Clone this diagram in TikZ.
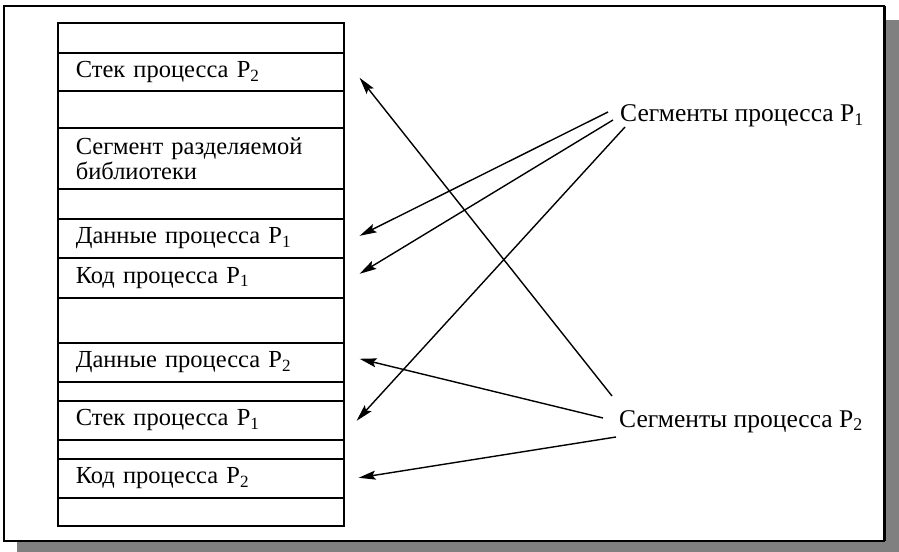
\documentclass[tikz,border=0pt]{standalone}
\usepackage{fontspec}
\setmainfont{Liberation Serif}
\usetikzlibrary{arrows.meta}

\newcommand{\cellfont}{\fontsize{24.5bp}{25bp}\selectfont}
\newcommand{\segfont}{\fontsize{25.5bp}{26bp}\selectfont}

\begin{document}
\begin{tikzpicture}[x=1bp,y=-1bp,
  cell/.style={draw, line width=1.6bp, anchor=north west,
    text width=250bp, inner xsep=18bp, inner ysep=0pt,
    align=left, font=\cellfont},
  seglabel/.style={inner sep=0pt, anchor=base west, font=\segfont},
  conn/.style={line width=1.4bp,
    -{Stealth[length=17bp,width=9bp,inset=3bp]}},
  shadow/.style={fill=black!50, draw=none}]

\useasboundingbox (0,0) rectangle (899,552);

% drop shadow and outer frame
\fill[shadow] (884,20) rectangle (899,552);
\fill[shadow] (17,541) rectangle (899,552);
\draw[line width=1.7bp, fill=white] (4,6) rectangle (884,541);
\draw[line width=3bp] (884,6) -- (884,541);

% memory map, top to bottom
\node[cell, minimum height=30bp] (e1) at (57,22) {};
\node[cell, minimum height=38bp] (stack2) at (57,52) {Стек процесса P\textsubscript{2}};
\node[cell, minimum height=37bp] (e2) at (57,90) {};
\node[cell, minimum height=61bp] (lib) at (57,127) {Сегмент разделяемой\\библиотеки};
\node[cell, minimum height=30bp] (e3) at (57,188) {};
\node[cell, minimum height=39bp] (data1) at (57,218) {Данные процесса P\textsubscript{1}};
\node[cell, minimum height=40bp] (code1) at (57,257) {Код процесса P\textsubscript{1}};
\node[cell, minimum height=45bp] (e4) at (57,297) {};
\node[cell, minimum height=39bp] (data2) at (57,342) {Данные процесса P\textsubscript{2}};
\node[cell, minimum height=19bp] (e5) at (57,381) {};
\node[cell, minimum height=39bp] (stack1) at (57,400) {Стек процесса P\textsubscript{1}};
\node[cell, minimum height=19bp] (e6) at (57,439) {};
\node[cell, minimum height=39bp] (code2) at (57,458) {Код процесса P\textsubscript{2}};
\node[cell, minimum height=28bp] (e7) at (57,497) {};

% segment labels
\node[seglabel] (seg1) at (620,122) {Сегменты процесса P\textsubscript{1}};
\node[seglabel] (seg2) at (619,427) {Сегменты процесса P\textsubscript{2}};

% segments of P1
\draw[conn] ([shift={(-12,-10)}]seg1.base west) -- ([shift={(15,-2.5)}]data1.east);
\draw[conn] ([shift={(-7,-2)}]seg1.base west) -- ([shift={(15,-4)}]code1.east);
\draw[conn] ([shift={(5,5)}]seg1.base west) -- ([shift={(12,0.5)}]stack1.east);

% segments of P2
\draw[conn] ([shift={(-7,-31)}]seg2.base west) -- ([shift={(15,6)}]stack2.east);
\draw[conn] ([shift={(-16,-9)}]seg2.base west) -- ([shift={(15,-3.5)}]data2.east);
\draw[conn] ([shift={(-3,10)}]seg2.base west) -- ([shift={(14,-0.5)}]code2.east);

\end{tikzpicture}
\end{document}
